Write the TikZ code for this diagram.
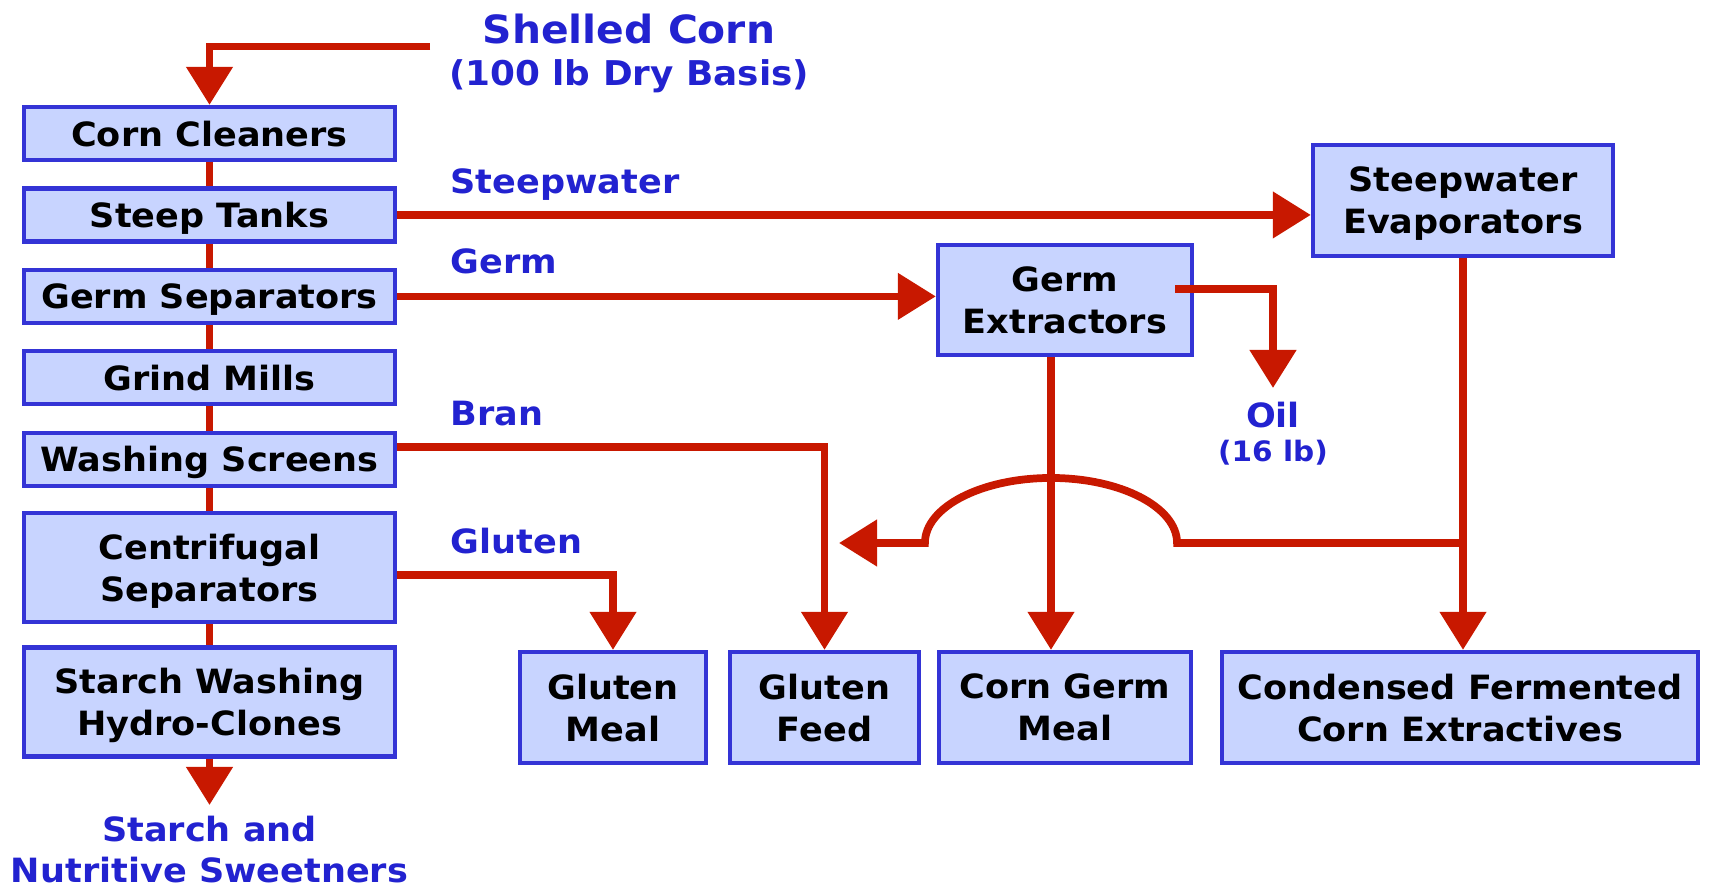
\documentclass[tikz,border=0pt]{standalone}
\usepackage{fontspec}
\setmainfont{DejaVu Sans}[FakeStretch=1.05]
\usetikzlibrary{calc, arrows.meta}

\definecolor{pipered}{RGB}{200,24,0}
\definecolor{boxblue}{RGB}{200,212,255}
\definecolor{edgeblue}{RGB}{52,52,214}
\definecolor{labelblue}{RGB}{34,34,208}

\begin{document}
\begin{tikzpicture}[x=0.01cm, y=-0.01cm, node distance=0.814cm]
        \tikzstyle{unitbox} = [rectangle, minimum width=3.71cm, minimum height=0.53cm, inner sep=0pt, text centered, align=center, text depth=0pt, draw=edgeblue, line width=1.2pt, fill=boxblue, font=\bfseries\fontsize{9.5}{11.9}\selectfont]
        \tikzstyle{tallbox} = [unitbox, minimum height=1.09cm]
        \tikzstyle{prodbox} = [unitbox, minimum height=1.11cm]
        \tikzstyle{streamlabel} = [text=labelblue, inner sep=0pt, align=center, font=\bfseries\fontsize{9.5}{11.9}\selectfont]
        \tikzstyle{pipeline} = [draw=pipered, line width=2.2pt]
        \tikzstyle{arrow} = [pipeline, -{Triangle[width=0.45cm, length=0.38cm]}]

        \useasboundingbox (0,0) rectangle (1709,891);

        % Main process line
        \node (cleaners) [unitbox] at (209.5,133.5) {Corn Cleaners};
        \node (steep) [unitbox, below of=cleaners] {Steep Tanks};
        \node (germsep) [unitbox, below of=steep] {Germ Separators};
        \node (grind) [unitbox, below of=germsep] {Grind Mills};
        \node (wash) [unitbox, below of=grind] {Washing Screens};
        \node (centri) [tallbox, below of=wash, yshift=-0.271cm] {Centrifugal\\Separators};
        \node (hydro) [tallbox, below of=centri, yshift=-0.526cm] {Starch Washing\\Hydro-Clones};

        % Side units
        \node (evap) [tallbox, minimum width=3.00cm, minimum height=1.11cm] at (1463,200.5) {Steepwater\\Evaporators};
        \node (germext) [tallbox, minimum width=2.54cm, minimum height=1.10cm] at (1065,300) {Germ\\Extractors};

        % Products
        \node (meal) [prodbox, minimum width=1.86cm] at (613,707.5) {Gluten\\Meal};
        \node (feed) [prodbox, minimum width=1.89cm] at (824.5,707.5) {Gluten\\Feed};
        \node (cgm) [prodbox, minimum width=2.52cm] at (1065,707.5) {Corn Germ\\Meal};
        \node (cfce) [prodbox, minimum width=4.76cm] at (1460,707.5) {Condensed Fermented\\Corn Extractives};

        % Stream labels
        \node (shelled) [streamlabel] at (629,53) {{\fontsize{11.05}{14}\selectfont Shelled Corn}\\{\fontsize{9.7}{11.9}\selectfont (100 lb Dry Basis)}};
        \node (steepwaterlbl) [streamlabel, anchor=base west] at (450,193) {Steepwater};
        \node (germlbl) [streamlabel, anchor=base west] at (450,274) {Germ};
        \node (branlbl) [streamlabel, anchor=base west] at (450,425) {Bran};
        \node (glutenlbl) [streamlabel, anchor=base west] at (450,553) {Gluten};
        \node (oil) [streamlabel, inner ysep=0.13cm, anchor=north] at (1273,388) {Oil\\[-2pt]{\fontsize{8}{10}\selectfont (16 lb)}};
        \node (sweet) [streamlabel, inner ysep=0.1cm, anchor=north] at (209.5,805) {Starch and\\Nutritive Sweetners};

        % Free ends
        \coordinate (feedin) at (430,46.5);
        \coordinate (oilout) at ([xshift=-0.19cm, yshift=0.11cm]germext.east);
        \coordinate (drop) at ([xshift=-0.14cm]germext.south);
        \coordinate (split) at (1463,543);

        % Arrows
        \draw [arrow] (feedin) -| (cleaners);
        \draw [pipeline] (cleaners) -- (steep);
        \draw [pipeline] (steep) -- (germsep);
        \draw [pipeline] (germsep) -- (grind);
        \draw [pipeline] (grind) -- (wash);
        \draw [pipeline] (wash) -- (centri);
        \draw [pipeline] (centri) -- (hydro);
        \draw [arrow] (hydro) -- (sweet);

        % Side streams
        \draw [arrow] (steep.east) -- (steep.east -| evap.west);
        \draw [arrow] (germsep.east) -- (germsep.east -| germext.west);
        \draw [arrow] (oilout) -| (oil);
        \draw [arrow] ([yshift=0.12cm]wash.east) -| (feed);
        \draw [arrow] ([yshift=-0.075cm]centri.east) -| (meal);
        \draw [arrow] (drop) -- (drop |- cgm.north);
        \draw [arrow] (evap) -- (evap |- cfce.north);
        \draw [arrow] (split) -- ($(drop |- split)+(1.26cm,0)$) arc[start angle=0, end angle=180, x radius=1.26cm, y radius=0.65cm] -- ($(feed.north |- split)+(0.145cm,0)$);
    \end{tikzpicture}
\end{document}
